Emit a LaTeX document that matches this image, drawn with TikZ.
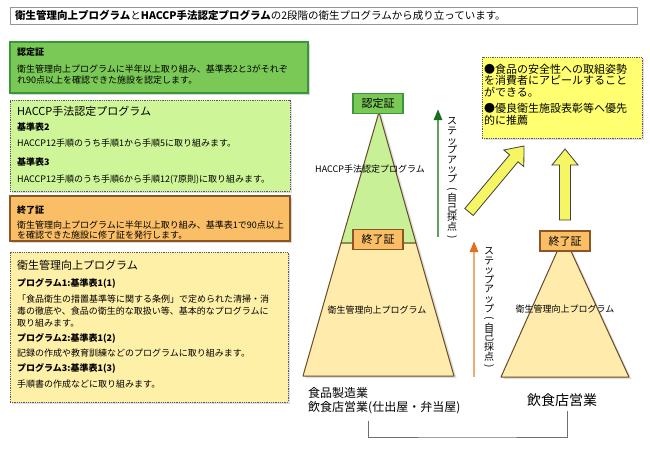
\documentclass[tikz,border=0pt]{standalone}
\usepackage{fontspec}
\usepackage{graphicx}
\setmainfont{Noto Sans CJK JP}
\usetikzlibrary{shadows,arrows.meta}
\definecolor{titleborder}{RGB}{150,150,150}
\definecolor{certfill}{RGB}{122,200,86}
\definecolor{certdraw}{RGB}{58,150,58}
\definecolor{haccpfill}{RGB}{206,246,152}
\definecolor{endfill}{RGB}{250,190,102}
\definecolor{enddraw}{RGB}{140,85,35}
\definecolor{basefill}{RGB}{255,240,168}
\definecolor{notefill}{RGB}{255,255,112}
\definecolor{pyrgreen}{RGB}{200,240,150}
\definecolor{pyryellow}{RGB}{255,236,172}
\definecolor{pyrline}{RGB}{105,72,38}
\definecolor{arrowfill}{RGB}{246,246,100}
\definecolor{gshaft}{RGB}{95,160,95}
\definecolor{gtip}{RGB}{25,110,25}
\definecolor{oshaft}{RGB}{240,172,112}
\definecolor{otip}{RGB}{222,112,32}
\definecolor{bracket}{RGB}{110,110,110}
\newcommand{\vopen}{\rotatebox[origin=c]{-90}{(}}
\newcommand{\vclose}{\rotatebox[origin=c]{-90}{)}}
\begin{document}
\begin{tikzpicture}[x=1pt,y=-1pt,
  panel/.style={anchor=north west, inner sep=0pt, outer sep=0pt},
  dotbox/.style={panel, draw=black!65, densely dotted, line width=0.8pt,
     drop shadow={shadow xshift=1.5pt, shadow yshift=-1.5pt, opacity=0.25}},
  solidbox/.style={panel, line width=1.6pt,
     drop shadow={shadow xshift=2pt, shadow yshift=-2pt, opacity=0.3}},
  txt/.style={anchor=west, inner sep=0pt, font=\fontsize{9}{10}\selectfont},
  btxt/.style={txt, font=\fontsize{9}{10}\selectfont\bfseries},
  htxt/.style={txt, font=\fontsize{11}{12}\selectfont},
  notetxt/.style={txt, font=\fontsize{11}{12}\selectfont},
  tag/.style={draw, line width=1.4pt, minimum width=50pt, minimum height=20pt,
     inner sep=0pt, font=\fontsize{11}{12}\selectfont},
  pyrlabel/.style={inner sep=0pt, font=\fontsize{9}{10}\selectfont},
  vtext/.style={inner sep=0pt, align=center, font=\fontsize{10}{9.6}\selectfont},
  blockarrow/.style={draw=black!75, line width=0.8pt, fill=arrowfill, line join=miter},
  pyr/.style={draw=pyrline, line width=1pt, line join=round,
     drop shadow={shadow xshift=2.5pt, shadow yshift=-2pt, opacity=0.25}}
]
\useasboundingbox[fill=white] (0,0) rectangle (650,450);

% title
\node[panel, draw=titleborder, line width=0.6pt, minimum width=627pt, minimum height=17pt] (title) at (10,7) {};
\node[txt, font=\fontsize{10.5}{12}\selectfont] (titletext) at (15,15.5)
  {\textbf{衛生管理向上プログラム}と\textbf{HACCP手法認定プログラム}の2段階の衛生プログラムから成り立っています。};

% left panels
\node[solidbox, draw=certdraw, fill=certfill, minimum width=298pt, minimum height=51pt] (certbox) at (10,42) {};
\node[btxt] (c1) at (17,52) {認定証};
\node[txt] (c2) at (17,69) {衛生管理向上プログラムに半年以上取り組み、基準表2と3がそれぞ};
\node[txt] (c3) at (17,80) {れ90点以上を確認できた施設を認定します。};

\node[dotbox, fill=haccpfill, minimum width=280pt, minimum height=91pt] (haccpbox) at (10,100) {};
\node[htxt] (h1) at (17,111) {HACCP手法認定プログラム};
\node[btxt] (h2) at (17,127) {基準表2};
\node[txt] (h3) at (17,143) {HACCP12手順のうち手順1から手順5に取り組みます。};
\node[btxt] (h4) at (17,162) {基準表3};
\node[txt] (h5) at (17,180) {HACCP12手順のうち手順6から手順12(7原則)に取り組みます。};

\node[solidbox, draw=enddraw, fill=endfill, line width=1.2pt, minimum width=280pt, minimum height=45pt] (endbox) at (10,196) {};
\node[btxt] (e1) at (17,210) {終了証};
\node[txt] (e2) at (17,225) {衛生管理向上プログラムに半年以上取り組み、基準表1で90点以上};
\node[txt] (e3) at (17,235) {を確認できた施設に修了証を発行します。};

\node[dotbox, fill=basefill, minimum width=278pt, minimum height=150pt] (basebox) at (10,252) {};
\node[htxt] (p1) at (17,265) {衛生管理向上プログラム};
\node[btxt] (p2) at (17,283) {プログラム1:基準表1(1)};
\node[txt] (p3) at (17,299) {「食品衛生の措置基準等に関する条例」で定められた清掃・消};
\node[txt] (p4) at (17,311) {毒の徹底や、食品の衛生的な取扱い等、基本的なプログラムに};
\node[txt] (p5) at (17,323) {取り組みます。};
\node[btxt] (p6) at (17,338) {プログラム2:基準表1(2)};
\node[txt] (p7) at (17,353) {記録の作成や教育訓練などのプログラムに取り組みます。};
\node[btxt] (p8) at (17,368) {プログラム3:基準表1(3)};
\node[txt] (p9) at (17,384) {手順書の作成などに取り組みます。};

% left pyramid
\path[pyr, fill=pyrgreen] (379,112) -- (341,243) -- (416,243) -- cycle;
\path[pyr, fill=pyryellow] (341,243) -- (416,243) -- (454,376) -- (303,376) -- cycle;
\node[tag, draw=certdraw, fill=certfill] (tagcert) at (378,103.5) {認定証};
\node[tag, draw=enddraw, fill=endfill, line width=1.2pt] (tagend1) at (378,239.5) {終了証};
\node[pyrlabel] (lh) at (370,169) {HACCP手法認定プログラム};
\node[pyrlabel] (lb) at (377,310) {衛生管理向上プログラム};

% right pyramid
\path[pyr, fill=pyryellow] (564,236) -- (629,377) -- (501,377) -- cycle;
\node[tag, draw=enddraw, fill=endfill, line width=1.2pt] (tagend2) at (565,241) {終了証};
\node[pyrlabel] (rb) at (565,309) {衛生管理向上プログラム};

% step-up arrows
\coordinate (g0) at (438,237);
\coordinate (g1) at (438,109);
\draw[line width=2.6pt, gshaft, -{Triangle[length=11pt,width=8pt,color=gtip]}] (g0) -- (g1);
\node[vtext] (gv) at (452,179) {ス\\テ\\ッ\\プ\\ア\\ッ\\プ\\\vopen\\自\\己\\採\\点\\\vclose};
\coordinate (o0) at (474,377);
\coordinate (o1) at (474,241);
\draw[line width=2.6pt, oshaft, -{Triangle[length=11pt,width=8pt,color=otip]}] (o0) -- (o1);
\node[vtext] (ov) at (489,308.5) {ス\\テ\\ッ\\プ\\ア\\ッ\\プ\\\vopen\\自\\己\\採\\点\\\vclose};

% block arrows
\draw[blockarrow] (473.2,215.5) -- (518.0,161.8) -- (523.8,166.6) -- (524,146)
  -- (503.8,150.0) -- (509.6,154.8) -- (464.8,208.5) -- cycle;
\draw[blockarrow] (559.5,220) -- (559.5,165) -- (552,165) -- (565,149)
  -- (578,165) -- (570.5,165) -- (570.5,220) -- cycle;

% note box
\node[dotbox, fill=notefill, minimum width=160pt, minimum height=81pt] (notebox) at (482,57) {};
\node[notetxt] (n1) at (484,69) {●食品の安全性への取組姿勢};
\node[notetxt] (n2) at (484,80.5) {を消費者にアピールすること};
\node[notetxt] (n3) at (484,92) {ができる。};
\node[notetxt] (n4) at (484,108.5) {●優良衛生施設表彰等へ優先};
\node[notetxt] (n5) at (484,120) {的に推薦};

% bottom labels
\node[txt, font=\fontsize{12}{14}\selectfont] (l1) at (308,393) {食品製造業};
\node[txt, font=\fontsize{12}{14}\selectfont] (l2) at (308,408) {飲食店営業(仕出屋・弁当屋)};
\node[inner sep=0pt, font=\fontsize{14}{15}\selectfont] (r1) at (562,400) {飲食店営業};
\coordinate (bl) at (368,421);
\coordinate (bb) at (467,437);
\coordinate (br) at (567,411);
\draw[bracket, line width=1pt] (bl) |- (bb) -| (br);
\end{tikzpicture}
\end{document}
